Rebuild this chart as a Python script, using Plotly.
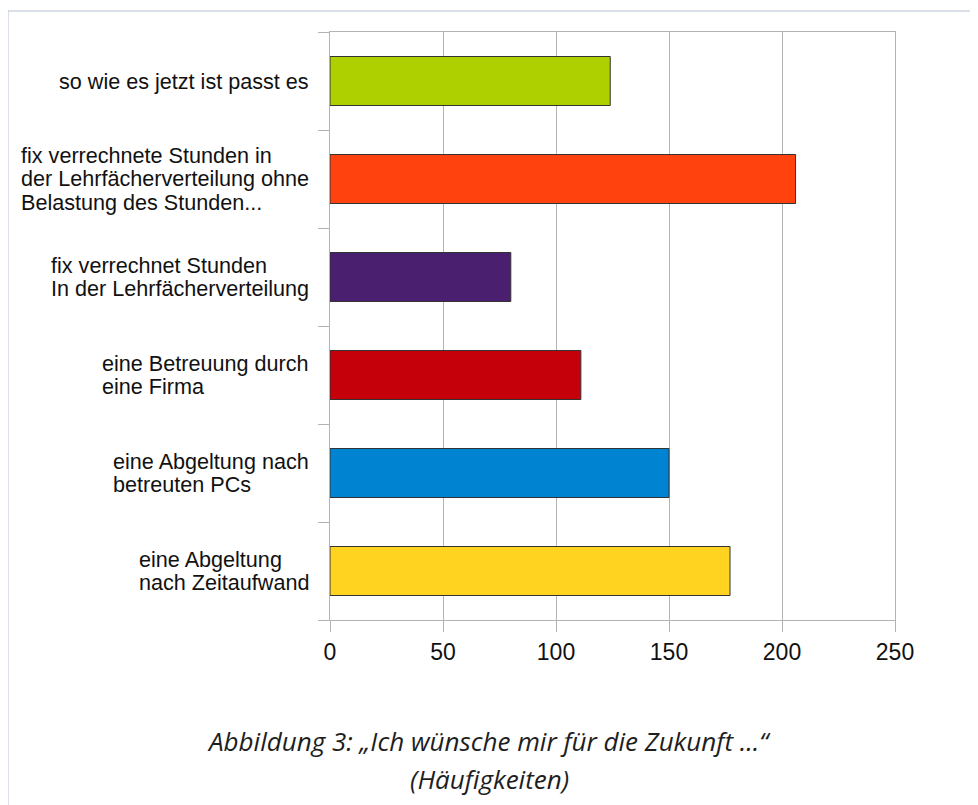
import plotly.graph_objects as go

# ---- data (bottom to top) ----
categories = [
    ["eine Abgeltung", "nach Zeitaufwand"],
    ["eine Abgeltung nach", "betreuten PCs"],
    ["eine Betreuung durch", "eine Firma"],
    ["fix verrechnet Stunden", "In der Lehrfächerverteilung"],
    ["fix verrechnete Stunden in", "der Lehrfächerverteilung ohne", "Belastung des Stunden..."],
    ["so wie es jetzt ist passt es"],
]
values = [177, 150, 111, 80, 206, 124]
colors = ["#FFD320", "#0084D1", "#C5000B", "#4B1F6F", "#FF420E", "#AECF00"]
x_ticks = [0, 50, 100, 150, 200, 250]
caption_lines = [
    "Abbildung 3: „Ich wünsche mir für die Zukunft ...“",
    "(Häufigkeiten)",
]

# page body has an 8px margin -> work in shifted coordinates
OFF = 8
W, H = 978 - OFF, 805 - OFF
L, T = 330 - OFF, 32 - OFF
PW, PH = 565, 588
R, B = W - L - PW, H - T - PH
grid = "#b3b3b3"


def px_to_paper_x(px):
    return (px - OFF - L) / PW


def px_to_paper_y(py):
    return (T + PH - (py - OFF)) / PH


fig = go.Figure()
fig.add_trace(go.Bar(
    y=list(range(len(categories))),
    x=values,
    orientation="h",
    marker=dict(color=colors, line=dict(color="#333333", width=1)),
    hoverinfo="x",
))

# category labels: left-aligned blocks ending left of the axis
for i, lines in enumerate(categories):
    txt = "<br>".join('<span style="font-size:21.6px">%s</span>' % s for s in lines)
    fig.add_annotation(
        x=0, xref="paper", y=i, yref="y",
        text=txt, showarrow=False, xanchor="right", yanchor="middle",
        align="left", xshift=-19,
        font=dict(family="Liberation Sans, Arial, sans-serif", size=18, color="#111111"),
    )

# caption
for j, (line, yc) in enumerate(zip(caption_lines, [741, 779])):
    fig.add_annotation(
        x=px_to_paper_x(489), xref="paper",
        y=px_to_paper_y(yc), yref="paper",
        text=line, showarrow=False, xanchor="center", yanchor="middle",
        font=dict(family="Open Sans, sans-serif", size=26, color="#1e1e1e", style="italic"),
    )

# outer frame (extends past right/bottom of the viewport)
fig.add_shape(
    type="rect", xref="paper", yref="paper",
    x0=px_to_paper_x(8), x1=px_to_paper_x(1000),
    y0=px_to_paper_y(840), y1=px_to_paper_y(11),
    line=dict(color="#b7c1d1", width=1), fillcolor="rgba(0,0,0,0)", layer="below",
)

fig.update_layout(
    width=W, height=H,
    margin=dict(l=L, r=R, t=T, b=B, pad=0),
    paper_bgcolor="white", plot_bgcolor="white",
    bargap=0.5, showlegend=False,
    xaxis=dict(
        range=[0, 250], tickvals=x_ticks, ticktext=[str(v) for v in x_ticks],
        showgrid=True, gridcolor=grid, gridwidth=1,
        showline=True, linecolor=grid, linewidth=1, mirror=True,
        ticks="outside", ticklen=11, tickcolor=grid, tickwidth=1,
        tickfont=dict(family="Liberation Sans, Arial, sans-serif", size=23, color="#111111"),
        zeroline=False, fixedrange=True,
    ),
    yaxis=dict(
        type="category", range=[-0.5, len(categories) - 0.5],
        tickvals=list(range(len(categories))), ticktext=[""] * len(categories),
        showticklabels=False,
        showgrid=False, showline=True, linecolor=grid, linewidth=1, mirror=True,
        ticks="outside", ticklen=11, tickcolor=grid, tickwidth=1,
        tickson="boundaries", zeroline=False, fixedrange=True,
    ),
)

fig.write_html("out.html")
